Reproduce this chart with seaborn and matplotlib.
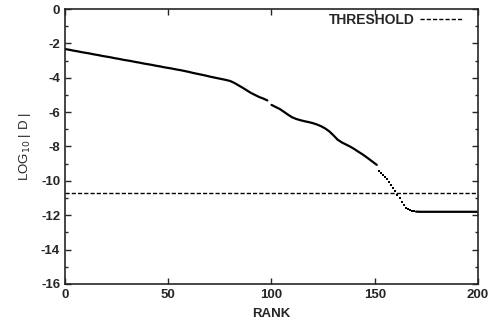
import numpy as np
import pandas as pd
import matplotlib
matplotlib.use("Agg")
import matplotlib.pyplot as plt
from matplotlib.ticker import MultipleLocator
import seaborn as sns

# valores (log10 |D| por posição no ranking)
rank_a = list(range(0, 100, 2))
logd_a = [-2.33, -2.37, -2.42, -2.46, -2.51, -2.55, -2.59, -2.64, -2.68, -2.73,
          -2.77, -2.81, -2.86, -2.90, -2.95, -2.99, -3.03, -3.08, -3.12, -3.17,
          -3.21, -3.25, -3.30, -3.34, -3.39, -3.43, -3.47, -3.52, -3.56, -3.61,
          -3.66, -3.72, -3.77, -3.82, -3.87, -3.93, -3.98, -4.03, -4.08, -4.13,
          -4.19, -4.30, -4.44, -4.58, -4.73, -4.88, -5.00, -5.12, -5.21, -5.32]

rank_b = list(range(100, 152, 2)) + [151]
logd_b = [-5.58, -5.70, -5.82, -5.98, -6.15, -6.30, -6.40, -6.47, -6.53, -6.58,
          -6.64, -6.72, -6.82, -6.95, -7.12, -7.35, -7.60, -7.76, -7.88, -8.00,
          -8.14, -8.30, -8.45, -8.62, -8.80, -8.98, -9.07]

# trecho íngreme: pontos isolados
rank_c = list(range(152, 170))
logd_c = [-9.40, -9.52, -9.65, -9.78, -9.92, -10.05, -10.22, -10.40, -10.60,
          -10.80, -11.02, -11.25, -11.42, -11.55, -11.63, -11.70, -11.75, -11.78]

rank_d = list(range(170, 201, 2))
logd_d = [-11.79, -11.80, -11.80, -11.80, -11.80, -11.80, -11.80, -11.80,
          -11.80, -11.80, -11.80, -11.80, -11.80, -11.80, -11.80, -11.80]

threshold = -10.72

df_line = pd.concat([
    pd.DataFrame({"rank": rank_a, "logd": logd_a, "seg": "a"}),
    pd.DataFrame({"rank": rank_b, "logd": logd_b, "seg": "b"}),
    pd.DataFrame({"rank": rank_d, "logd": logd_d, "seg": "d"}),
])
df_dots = pd.DataFrame({"rank": rank_c, "logd": logd_c})

sns.set_style("ticks")
plt.rcParams['font.family'] = ['Liberation Sans', 'DejaVu Sans']
plt.rcParams['axes.unicode_minus'] = False

fig = plt.figure(figsize=(4.91, 3.25), dpi=100)
ax = fig.add_axes([0.1324, 0.1262, 0.8411, 0.8461])

sns.lineplot(data=df_line, x="rank", y="logd", units="seg", estimator=None,
             color="black", linewidth=1.6, ax=ax, legend=False)
sns.scatterplot(data=df_dots, x="rank", y="logd", color="black", marker="s",
                s=3, linewidth=0, ax=ax, legend=False)
ax.axhline(threshold, color="black", linewidth=1.0, linestyle=(0, (3, 1.5)),
           label="THRESHOLD")

ax.set_xlim(0, 200)
ax.set_ylim(-16, 0)
ax.xaxis.set_major_locator(MultipleLocator(50))
ax.yaxis.set_major_locator(MultipleLocator(2))
ax.yaxis.set_minor_locator(MultipleLocator(1))
ax.tick_params(which="both", direction="in", top=True, right=True,
               labelsize=9.5, width=1)
ax.tick_params(which="major", length=4)
ax.tick_params(which="minor", length=2.5)
for lbl in ax.get_xticklabels() + ax.get_yticklabels():
    lbl.set_fontweight("bold")
for s in ax.spines.values():
    s.set_linewidth(1.2)

ax.set_xlabel("RANK", fontsize=9.5, fontweight="bold", labelpad=5)
ax.set_ylabel("LOG$_{10}$ | D |", fontsize=9.5, labelpad=6)

leg = ax.legend(loc="upper right", bbox_to_anchor=(0.977, 1.007),
                frameon=False, markerfirst=False,
                handlelength=3.1, handletextpad=0.4, borderaxespad=0,
                prop={"size": 10, "weight": "bold"})

fig.savefig("out.png", dpi=100)
